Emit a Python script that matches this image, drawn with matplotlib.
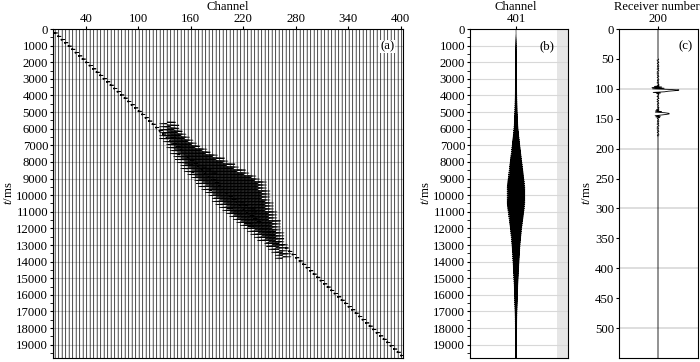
import numpy as np
import matplotlib.pyplot as plt

plt.rcParams['font.family'] = ['Liberation Serif', 'DejaVu Serif']
plt.rcParams['font.size'] = 9.2
plt.rcParams['mathtext.fontset'] = 'custom'
plt.rcParams['mathtext.rm'] = 'Liberation Serif'
plt.rcParams['mathtext.it'] = 'Liberation Serif:italic'

# ---- panel (a): shot gather, every 4th channel
channels = np.arange(1, 402, 4)
ms_per_channel = 49.0          # slope of the first-break diagonal
t_max = 19800
dt = 10
a_xticks = [40, 100, 160, 220, 280, 340, 400]

main_wavelet = [-0.2, -0.55, 0.25, 1.0, 0.25, -0.55, -0.2]
main_amp = 2.8                 # deflection in channel units

# strong coda zone: window start / end per channel
band_start_ch = [133, 163, 207, 238, 244, 250, 256, 261, 266]
band_start_ms = [5600, 7000, 8300, 9200, 10200, 11100, 12000, 12900, 13500]
band_end_ch = [133, 141, 158, 175, 191, 208, 230, 252, 266]
band_end_ms = [6600, 7290, 8490, 9400, 10300, 11200, 12110, 13010, 13900]
band_amp = 9.5
coda_cycle = [0.0, 0.3, 0.8, 1.0, 0.5, 0.0, 0.0, 0.0, 0.0,
              0.0, -0.3, -0.7, -0.9, -0.4, 0.0, 0.0, 0.0, 0.0]

# ---- panel (b): channel 401
b_channel = 401
b_env_ms = [0, 1700, 3000, 5000, 6000, 7000, 8000, 9000, 9500, 10500, 11000, 12000,
            13000, 14000, 15000, 16000, 17000, 18000, 19800]
b_env_amp = [0, 0.3, 0.6, 1.3, 2.2, 4.0, 6.0, 8.0, 9.0, 9.0, 8.0, 5.8, 4.2, 3.2, 2.3,
             1.6, 1.1, 0.8, 0.4]
b_cycle = [0.0, 1.0, -0.4, -0.9, 0.3, 0.7, -1.0, 0.1, 0.5, -0.6, 0.9, -0.2, -0.8,
           0.6, 0.2, -0.5, 1.0, -0.7, 0.4, -0.3, 0.8, -1.0, 0.5]

# ---- panel (c): receiver 200
c_receiver = 200
c_t_max = 550
c_event_ms = [95, 134]
c_event_amp = [20, 12]
c_wavelet = [0.1, -0.2, 0.15, -0.25, 0.3, -0.3, 0.6, 1.0, 0.9, 0.55, 0.3, -0.25, 0.15,
             -0.12, 0.08]
c_noise_ms = [50, 180]
c_noise_amp = 1.0


def build_gather():
    t = np.arange(0, t_max + dt, dt)
    carrier = np.resize(coda_cycle, len(t))
    traces = []
    for ch in channels:
        tr = np.zeros_like(t, dtype=float)
        i0 = int(round(ch * ms_per_channel / dt))
        for k, w in enumerate(main_wavelet):
            j = i0 + k - len(main_wavelet) // 2
            if 0 <= j < len(tr):
                tr[j] += main_amp * w
        if band_start_ch[0] <= ch <= band_start_ch[-1]:
            s = np.interp(ch, band_start_ch, band_start_ms)
            e = np.interp(ch, band_end_ch, band_end_ms)
            win = (t >= s) & (t <= e)
            tr[win] += band_amp * carrier[win]
        traces.append(tr)
    return t, traces


fig = plt.figure(figsize=(7, 3.62), dpi=100)

# panel (a)
ax1 = fig.add_axes([53 / 700, 1 - 358 / 362, 350 / 700, 329 / 362])
t, traces = build_gather()
for y in range(1000, 20000, 1000):
    ax1.axhline(y, color='#c8c8c8', lw=0.8, zorder=0)
for ch, tr in zip(channels, traces):
    ax1.plot(ch + tr, t, color='k', lw=0.5)
ax1.set_xlim(2.5, 402.5)
ax1.set_ylim(t_max, 0)
ax1.xaxis.tick_top()
ax1.set_xticks(a_xticks)
ax1.set_yticks(np.arange(0, 20000, 1000))
ax1.set_yticks(np.arange(500, 20000, 1000), minor=True)
ax1.set_ylabel('$t$/ms', labelpad=1)
ax1.text(0.975, 0.965, '(a)', transform=ax1.transAxes, ha='right', va='top',
         bbox=dict(facecolor='white', edgecolor='none', pad=0.5))

# panel (b)
ax2 = fig.add_axes([470 / 700, 1 - 358 / 362, 98 / 700, 329 / 362])
tb = np.arange(0, t_max + dt / 2, dt / 2)
env = np.interp(tb, b_env_ms, b_env_amp)
trb = env * np.resize(b_cycle, len(tb))
ax2.axvspan(b_channel + 41, b_channel + 53, color='#e6e6e6', lw=0, zorder=0)
for y in range(1000, 20000, 1000):
    ax2.axhline(y, color='#d8d8d8', lw=0.8, zorder=0)
ax2.plot(b_channel + trb, tb, color='k', lw=0.4)
ax2.set_xlim(b_channel - 46, b_channel + 52)
ax2.set_ylim(t_max, 0)
ax2.xaxis.tick_top()
ax2.set_xticks([b_channel])
ax2.set_yticks(np.arange(0, 20000, 1000))
ax2.set_yticks(np.arange(500, 20000, 1000), minor=True)
ax2.set_ylabel('$t$/ms', labelpad=1)
ax2.text(0.86, 0.965, '(b)', transform=ax2.transAxes, ha='right', va='top')

# panel (c)
ax3 = fig.add_axes([619 / 700, 1 - 358 / 362, 79 / 700, 329 / 362])
tc = np.arange(0, c_t_max + 1, 1.0)
trc = np.zeros_like(tc)
nw = (tc >= c_noise_ms[0]) & (tc <= c_noise_ms[1])
trc[nw] += c_noise_amp * np.resize(b_cycle, len(tc))[nw]
for ev, amp in zip(c_event_ms, c_event_amp):
    for k, w in enumerate(c_wavelet):
        trc[int(ev) + k] += amp * w
for y in range(100, 600, 100):
    ax3.axhline(y, color='#d8d8d8', lw=1.2, zorder=0)
ax3.plot(c_receiver + trc, tc, color='k', lw=0.6)
ax3.set_xlim(c_receiver - 39, c_receiver + 40)
ax3.set_ylim(c_t_max, 0)
ax3.xaxis.tick_top()
ax3.set_xticks([c_receiver])
ax3.set_yticks(np.arange(0, 550, 50))
ax3.set_ylabel('$t$/ms', labelpad=1)
ax3.text(0.93, 0.965, '(c)', transform=ax3.transAxes, ha='right', va='top')

for ax in (ax1, ax2, ax3):
    ax.tick_params(axis='both', which='major', length=2.5, width=0.8, pad=0.5)
    ax.tick_params(axis='y', which='minor', length=2, width=0.6)
    ax.tick_params(axis='y', which='major', pad=1)

# top axis titles, placed in figure pixels above the tick labels
fig.text(228 / 700, 1 - 0.5 / 362, 'Channel', ha='center', va='top')
fig.text(516 / 700, 1 - 0.5 / 362, 'Channel', ha='center', va='top')
fig.text(657 / 700, 1 - 0.5 / 362, 'Receiver number', ha='center', va='top', fontsize=9)

fig.savefig('out.png', dpi=100)
